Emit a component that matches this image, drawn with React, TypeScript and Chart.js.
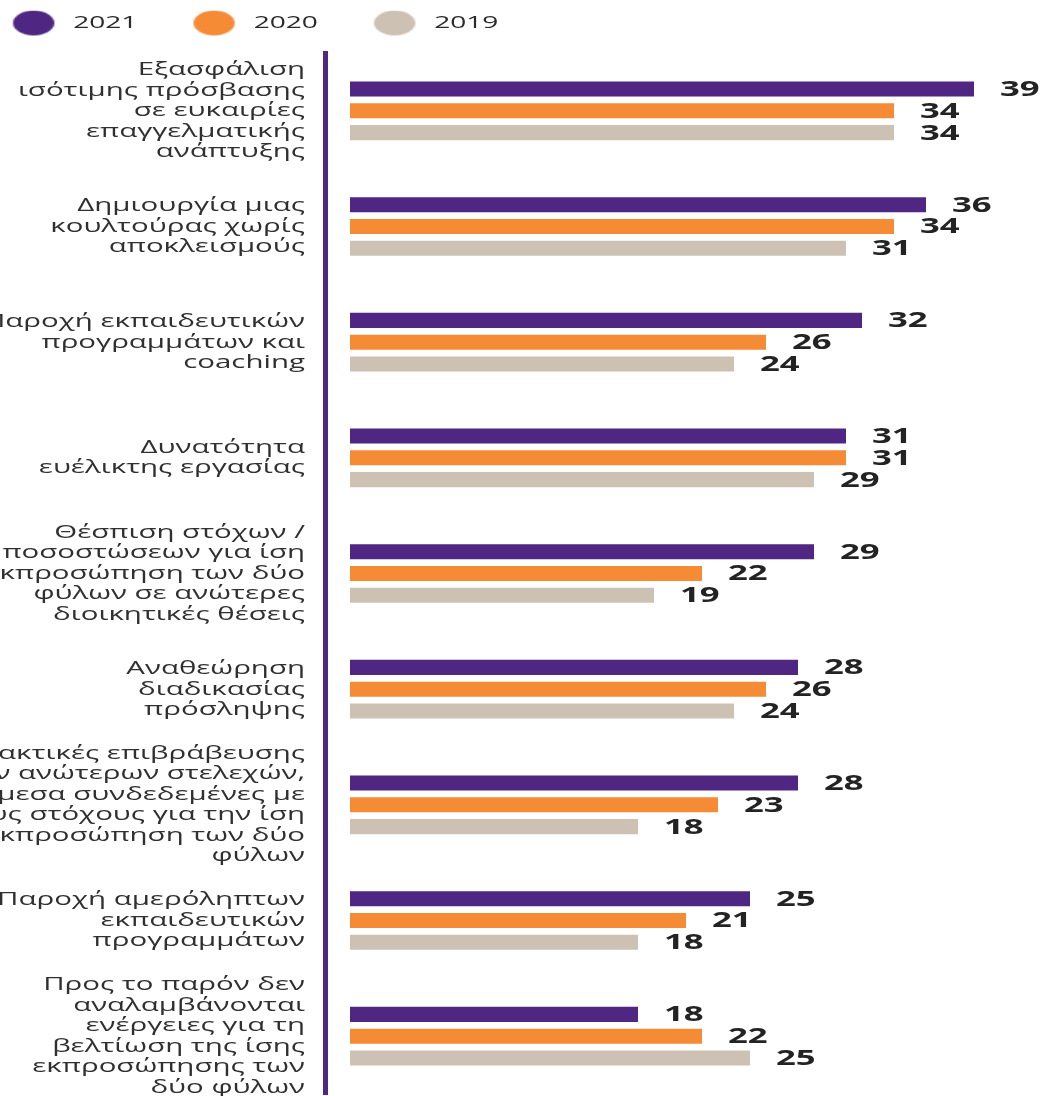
import React, { useEffect, useRef } from 'react';
import { Chart, registerables, CategoryScale } from 'chart.js';

// ---------- data ----------
const categories: string[][] = [
  ['Εξασφάλιση', 'ισότιμης πρόσβασης', 'σε ευκαιρίες', 'επαγγελματικής', 'ανάπτυξης'],
  ['Δημιουργία μιας', 'κουλτούρας χωρίς', 'αποκλεισμούς'],
  ['Παροχή εκπαιδευτικών', 'προγραμμάτων και', 'coaching'],
  ['Δυνατότητα', 'ευέλικτης εργασίας'],
  ['Θέσπιση στόχων /', 'ποσοστώσεων για ίση', 'εκπροσώπηση των δύο', 'φύλων σε ανώτερες', 'διοικητικές θέσεις'],
  ['Αναθεώρηση', 'διαδικασίας', 'πρόσληψης'],
  ['Πρακτικές επιβράβευσης', 'των ανώτερων στελεχών,', 'άμεσα συνδεδεμένες με', 'τους στόχους για την ίση', 'εκπροσώπηση των δύο', 'φύλων'],
  ['Παροχή αμερόληπτων', 'εκπαιδευτικών', 'προγραμμάτων'],
  ['Προς το παρόν δεν', 'αναλαμβάνονται', 'ενέργειες για τη', 'βελτίωση της ίσης', 'εκπροσώπησης των', 'δύο φύλων'],
];
const seriesLabels = ['2021', '2020', '2019'];
const values2021 = [39, 36, 32, 31, 29, 28, 28, 25, 18];
const values2020 = [34, 34, 26, 31, 22, 26, 23, 21, 22];
const values2019 = [34, 31, 24, 29, 19, 24, 18, 18, 25];
const seriesColors = ['#4F2682', '#F58B35', '#CDC1B4'];

// ---------- style constants ----------
const STRETCH = 1.65;
const LABEL_STRETCH = 1.55;
const FONT = '"Open Sans", "DejaVu Sans", sans-serif';
const DOT_D = 25;
const DOT_ML = 30;
const DOT_MR = 3;

class StretchCategoryScale extends (CategoryScale as any) {
  static id = 'stretchCategory';
  drawLabels(chartArea: any) {
    const ctx = this.ctx;
    const pad = (this.options.ticks && this.options.ticks.padding) || 0;
    const R = this.right - pad;
    ctx.save();
    ctx.translate(R, 0);
    ctx.scale(LABEL_STRETCH, 1);
    ctx.translate(-R, 0);
    super.drawLabels(chartArea);
    ctx.restore();
  }
}

Chart.register(...registerables, StretchCategoryScale as any);

function makeDot(color: string): HTMLCanvasElement {
  const c = document.createElement('canvas');
  c.width = DOT_ML + DOT_D + DOT_MR;
  c.height = DOT_D + 2;
  const g = c.getContext('2d')!;
  g.fillStyle = color;
  g.beginPath();
  g.arc(DOT_ML + DOT_D / 2, c.height / 2, DOT_D / 2, 0, Math.PI * 2);
  g.fill();
  return c;
}

const stretchLegendPlugin = {
  id: 'stretchLegend',
  beforeDraw(chart: any) {
    const lg = chart.legend;
    if (!lg || lg.__stretched) return;
    const orig = lg.draw;
    lg.draw = function (area: any) {
      const hb = this.legendHitBoxes && this.legendHitBoxes[0];
      if (!hb) return orig.call(this, area);
      const ctx = this.ctx;
      const fs = 17;
      ctx.save();
      ctx.translate(13 - STRETCH * DOT_ML, 23);
      ctx.scale(STRETCH, 1);
      ctx.translate(-hb.left, -(hb.top + fs / 2));
      orig.call(this, area);
      ctx.restore();
    };
    lg.__stretched = true;
  },
};

const valueLabelPlugin = {
  id: 'valueLabels',
  afterDatasetsDraw(chart: any) {
    const ctx = chart.ctx;
    chart.data.datasets.forEach((ds: any, di: number) => {
      const meta = chart.getDatasetMeta(di);
      meta.data.forEach((bar: any, i: number) => {
        const { x, y } = bar.getProps(['x', 'y'], true);
        ctx.save();
        ctx.translate(x + 26, y + 1);
        ctx.scale(STRETCH, 1);
        ctx.font = `bold 21px ${FONT}`;
        ctx.fillStyle = '#232323';
        ctx.textAlign = 'left';
        ctx.textBaseline = 'middle';
        ctx.fillText(String(ds.data[i]), 0, 0);
        ctx.restore();
      });
    });
  },
};

export default function App() {
  const ref = useRef<HTMLCanvasElement>(null);

  useEffect(() => {
    const canvas = ref.current;
    if (!canvas) return;
    const dots = seriesColors.map(makeDot);
    const seriesValues = [values2021, values2020, values2019];

    const chart = new Chart(canvas, {
      type: 'bar',
      data: {
        labels: categories as any,
        datasets: seriesLabels.map((lab, i) => ({
          label: lab,
          data: seriesValues[i],
          backgroundColor: seriesColors[i],
          borderWidth: 0,
          categoryPercentage: 0.565,
          barPercentage: 0.69,
        })),
      },
      options: {
        animation: false,
        responsive: false,
        indexAxis: 'y',
        events: [],
        layout: { padding: { top: 22, bottom: 2, left: 0, right: 0 } },
        scales: {
          x: {
            type: 'linear',
            display: false,
            min: -1.5625,
            max: 43.625,
          },
          y: {
            type: 'stretchCategory' as any,
            offset: true,
            afterFit: (s: any) => {
              s.width = 325;
              s.paddingTop = 0;
              s.paddingBottom = 0;
            },
            grid: { display: false, drawTicks: false },
            border: { display: true, color: '#4F2682', width: 5 },
            ticks: {
              padding: 20,
              color: '#303030',
              font: { family: FONT, size: 19, lineHeight: 20.5 / 19 },
              autoSkip: false,
            },
          },
        },
        plugins: {
          tooltip: { enabled: false },
          legend: {
            display: true,
            position: 'top',
            align: 'start',
            labels: {
              usePointStyle: true,
              pointStyleWidth: DOT_ML + DOT_D + DOT_MR,
              boxHeight: 17,
              padding: 4,
              color: '#2a2a2a',
              font: { family: FONT, size: 17 },
              generateLabels: (c: any) => {
                const items = (Chart.defaults as any).plugins.legend.labels.generateLabels(c);
                items.forEach((it: any, i: number) => {
                  it.pointStyle = dots[i];
                });
                return items;
              },
            },
          },
        },
      } as any,
      plugins: [stretchLegendPlugin, valueLabelPlugin],
    });

    return () => chart.destroy();
  }, []);

  return (
    <div style={{ position: 'absolute', left: 0, top: 0, width: 1048, height: 1096, background: '#ffffff' }}>
      <canvas ref={ref} width={1048} height={1096} style={{ display: 'block', width: 1048, height: 1096 }} />
    </div>
  );
}
